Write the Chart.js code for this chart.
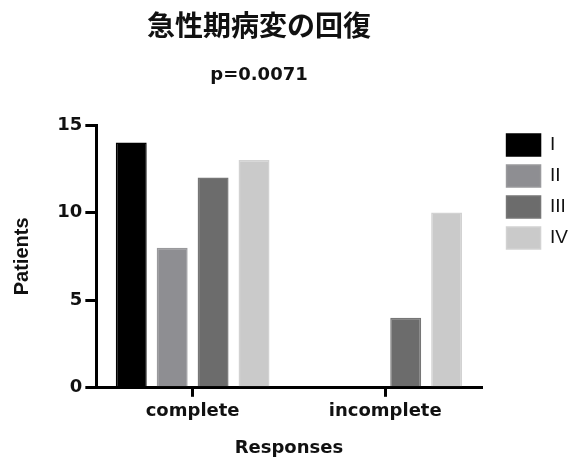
<!DOCTYPE html>
<html>
<head>
<meta charset="utf-8">
<script src="https://cdn.jsdelivr.net/npm/chart.js@4/dist/chart.umd.min.js"></script>
<style>
  body { margin: 0; background: #fff; }
  #wrap { position: relative; width: 581px; height: 459px; }
  #chart { position: absolute; left: 0; top: 0; }
  .head { position: absolute; left: 0; width: 518px; text-align: center; color: #111; font-weight: 700; }
  #title { top: 10px; font: 700 28px/28px "Noto Sans CJK JP", sans-serif; }
  #subtitle { top: 65px; font: 700 18px/18px "DejaVu Sans", sans-serif; }
</style>
</head>
<body>
<div id="wrap">
  <canvas id="chart" width="581" height="459"></canvas>
  <div class="head" id="title">急性期病変の回復</div>
  <div class="head" id="subtitle">p=0.0071</div>
</div>
<script>
const categories = ['complete', 'incomplete'];
const seriesNames = ['I', 'II', 'III', 'IV'];
const seriesI = [14, 0];
const seriesII = [8, 0];
const seriesIII = [12, 4];
const seriesIV = [13, 10];
const yTicks = [0, 5, 10, 15];

const fills = ['#000000', '#8e8e92', '#6c6c6c', '#cacaca'];
const edges = ['#000000', '#99999c', '#767676', '#d2d2d2'];

const tickFont = { family: 'DejaVu Sans', size: 18, weight: 'bold' };

const datasets = [seriesI, seriesII, seriesIII, seriesIV].map((vals, i) => ({
  label: seriesNames[i],
  data: vals,
  backgroundColor: fills[i],
  borderColor: edges[i],
  borderWidth: 1.5,
  categoryPercentage: 0.85,
  barPercentage: 0.756
}));

const ctx = document.getElementById('chart').getContext('2d');
new Chart(ctx, {
  type: 'bar',
  data: { labels: categories, datasets: datasets },
  options: {
    responsive: false,
    animation: false,
    layout: { padding: { top: 125, left: 0, right: 3, bottom: 0 } },
    plugins: {
      tooltip: { enabled: false },
      legend: {
        position: 'right',
        align: 'start',
        labels: {
          boxWidth: 34,
          boxHeight: 22,
          padding: 9,
          color: '#111',
          font: { family: 'Liberation Sans', size: 19 }
        }
      }
    },
    scales: {
      x: {
        offset: true,
        grid: { display: true, drawOnChartArea: false, offset: false, color: '#000', lineWidth: 3, tickLength: 9 },
        border: { display: true, color: '#000', width: 3 },
        ticks: { color: '#111', font: tickFont, padding: 4 },
        title: {
          display: true,
          text: 'Responses',
          color: '#111',
          font: tickFont,
          padding: { top: 11, bottom: 0 }
        }
      },
      y: {
        min: 0,
        max: 15,
        afterBuildTicks: (scale) => { scale.ticks = yTicks.map(v => ({ value: v })); },
        grid: { display: true, drawOnChartArea: false, color: '#000', lineWidth: 3, tickLength: 11 },
        border: { display: true, color: '#000', width: 3 },
        ticks: { color: '#111', font: tickFont, padding: 3 },
        title: {
          display: true,
          text: 'Patients',
          color: '#111',
          font: { family: 'Liberation Sans', size: 20, weight: 'bold' },
          padding: { top: 10, bottom: 22 }
        }
      },
      gap: {
        position: 'right',
        display: true,
        grid: { display: false },
        border: { display: false },
        ticks: { display: false },
        afterFit: (scale) => { scale.width = 16; }
      }
    }
  }
});
</script>
</body>
</html>
